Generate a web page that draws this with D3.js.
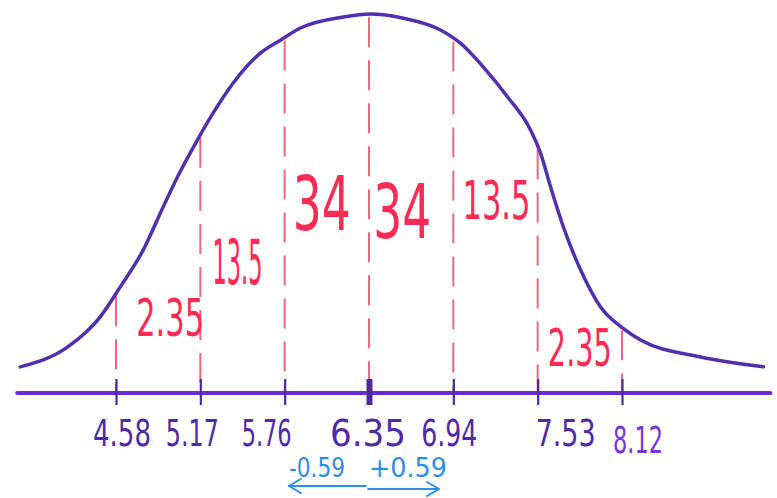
<!DOCTYPE html>
<html>
<head>
<meta charset="utf-8">
<script src="https://cdn.jsdelivr.net/npm/d3@7"></script>
<style>
  html, body { margin: 0; padding: 0; background: #fff; }
  svg { display: block; }
  text { font-family: "DejaVu Sans Condensed", "DejaVu Sans", sans-serif; }
</style>
</head>
<body>
<svg id="chart" width="777" height="498"></svg>
<script>
// Normal distribution: mean and standard deviation
const mean = 6.35;
const sd = 0.59;

// Axis ticks: mean ± 1, 2, 3 standard deviations
const ticks = [4.58, 5.17, 5.76, 6.35, 6.94, 7.53, 8.12];
const tickLabels = ["4.58", "5.17", "5.76", "6.35", "6.94", "7.53", "8.12"];

// Percent of the area falling between consecutive ticks
const bandPercents = [2.35, 13.5, 34, 34, 13.5, 2.35];
const bandLabels = ["2.35", "13.5", "34", "34", "13.5", "2.35"];

// Bell curve outline: x value and relative height (peak = 1)
const curveX = [3.91, 4.24, 4.47, 4.61, 4.77, 4.91, 5.01, 5.15, 5.26, 5.40, 5.59, 5.73, 5.87, 6.17, 6.36,
                6.59, 6.85, 6.99, 7.15, 7.32, 7.48, 7.55, 7.62, 7.71, 7.83, 7.97, 8.13, 8.25, 8.67, 9.11];
const curveY = [0.069, 0.121, 0.201, 0.280, 0.377, 0.491, 0.570, 0.668, 0.739, 0.818, 0.897, 0.931, 0.963, 0.992, 1.000,
                0.989, 0.958, 0.923, 0.860, 0.781, 0.694, 0.633, 0.544, 0.438, 0.325, 0.227, 0.170, 0.140, 0.095, 0.069];

// Hand-placed label layout (offsets, baselines, sizes and widths in px)
const bandLabelLayout = [
  { dx: 12, y: 336, size: 52, w: 68 },
  { dx: -5, y: 284, size: 62, w: 50 },
  { dx: -5, y: 230, size: 74, w: 58 },
  { dx: -9, y: 238, size: 74, w: 58 },
  { dx: 1, y: 219, size: 54, w: 68 },
  { dx: 0, y: 366, size: 52, w: 64 }
];
const tickLabelLayout = [
  { dx: 6, dy: 0, w: 58 }, { dx: -8, dy: 0, w: 53 }, { dx: -18, dy: 0, w: 50 }, { dx: -1, dy: 0, w: 76 },
  { dx: -4, dy: 0, w: 56 }, { dx: 28, dy: 0, w: 60 }, { dx: 16, dy: 7, w: 50 }
];

const svg = d3.select("#chart");
const axisY = 393;

const x = d3.scaleLinear().domain([ticks[0], ticks[ticks.length - 1]]).range([116, 622]);
const y = d3.scaleLinear().domain([0, 1]).range([axisY, 14]);

const curvePts = curveX.map((v, i) => [v, curveY[i]]);

// Height of the outline at a given x value (linear between points)
function heightAt(v) {
  for (let i = 1; i < curvePts.length; i++) {
    if (v <= curvePts[i][0]) {
      const [x0, y0] = curvePts[i - 1], [x1, y1] = curvePts[i];
      return y0 + (y1 - y0) * (v - x0) / (x1 - x0);
    }
  }
  return curvePts[curvePts.length - 1][1];
}

// Narrow hand-lettered look: squeeze each text horizontally to a target width
function squeezedText(parent, str, cx, baseline, size, width, color) {
  const t = parent.append("text")
    .attr("text-anchor", "middle")
    .attr("font-size", size)
    .attr("fill", color)
    .text(str);
  const natural = t.node().getComputedTextLength();
  t.attr("transform", `translate(${cx},${baseline}) scale(${width / natural},1)`);
  return t;
}

// Dashed dividers from the curve down to the axis
svg.append("g").selectAll("line").data(ticks).join("line")
  .attr("x1", d => x(d)).attr("x2", d => x(d))
  .attr("y1", d => y(heightAt(d)) + 3)
  .attr("y2", axisY)
  .attr("stroke", "#e8435f")
  .attr("stroke-width", 2)
  .attr("stroke-dasharray", "30,13")
  .attr("opacity", 0.8);

// Bell curve
const line = d3.line().x(d => x(d[0])).y(d => y(d[1])).curve(d3.curveMonotoneX);
svg.append("path")
  .datum(curvePts)
  .attr("d", line)
  .attr("fill", "none")
  .attr("stroke", "#5230ad")
  .attr("stroke-width", 3.5)
  .attr("stroke-linecap", "round");

// Axis with ticks crossing the baseline
const axis = d3.axisBottom(x)
  .tickValues(ticks)
  .tickFormat("")
  .tickSizeOuter(0);
const gAxis = svg.append("g").attr("transform", `translate(0,${axisY})`).call(axis);
gAxis.select(".domain").remove();
gAxis.selectAll(".tick text").remove();
gAxis.insert("line", ":first-child")
  .attr("x1", x(curveX[0]) - 3).attr("x2", x(curveX[curveX.length - 1]) + 7)
  .attr("stroke", "#6a2ccc").attr("stroke-width", 4).attr("stroke-linecap", "round");
gAxis.selectAll(".tick line")
  .attr("y1", -14)
  .attr("y2", 12)
  .attr("stroke", "#4b2a9e")
  .attr("stroke-width", d => d === mean ? 6 : 2.2);

// Tick labels
const gTickLabels = svg.append("g");
ticks.forEach((t, i) => {
  const L = tickLabelLayout[i];
  squeezedText(gTickLabels, tickLabels[i], x(t) + L.dx, axisY + 53 + L.dy, 38, L.w,
    i === ticks.length - 1 ? "#7a35d6" : "#4e2aa6");
});

// Percent labels centred in each band
const gBands = svg.append("g");
bandPercents.forEach((p, i) => {
  const L = bandLabelLayout[i];
  squeezedText(gBands, bandLabels[i], (x(ticks[i]) + x(ticks[i + 1])) / 2 + L.dx, L.y, L.size, L.w, "#ff2b55");
});

// One standard deviation either side of the mean
const blue = "#2f8de4";
const gSd = svg.append("g");
squeezedText(gSd, `-${sd}`, x(mean) - 52, 477, 27, 56, blue);
squeezedText(gSd, `+${sd}`, x(mean) + 39, 477, 27, 78, blue);

const arrows = [
  { from: mean - sd * 0.04, to: mean - sd * 0.95, yy: 486 },
  { from: mean - sd * 0.01, to: mean + sd * 0.83, yy: 489 }
];
arrows.forEach(a => {
  const x0 = x(a.from), x1 = x(a.to), dir = Math.sign(x1 - x0);
  svg.append("path")
    .attr("d", `M${x0},${a.yy}L${x1},${a.yy}M${x1 - dir * 12},${a.yy - 7}L${x1},${a.yy}L${x1 - dir * 12},${a.yy + 7}`)
    .attr("fill", "none").attr("stroke", blue).attr("stroke-width", 2)
    .attr("stroke-linecap", "round").attr("stroke-linejoin", "round");
});
</script>
</body>
</html>
